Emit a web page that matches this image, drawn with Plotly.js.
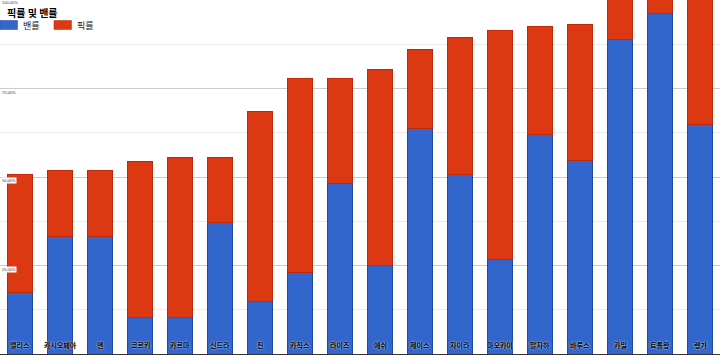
<!DOCTYPE html>
<html>
<head>
<meta charset="utf-8">
<script src="https://cdn.plot.ly/plotly-3.0.1.min.js"></script>
<style>html,body{margin:0;padding:0;background:#fff;}#chart{width:720px;height:355px;}</style>
</head>
<body>
<div id="chart"></div>
<script>
const categories = ['엘리스','카시오페아','엔','코르키','카르마','신드라','진','카직스','라이즈','애쉬','제이스','자이라','마오카이','말자하','바루스','카밀','트롤왕','렝가'];
const banRate  = [0.174,0.332,0.332,0.102,0.102,0.371,0.148,0.230,0.482,0.249,0.638,0.508,0.266,0.619,0.548,0.889,0.962,0.647];
const pickRate = [0.334,0.185,0.185,0.443,0.452,0.183,0.536,0.547,0.295,0.555,0.221,0.387,0.648,0.306,0.384,0.120,0.050,0.370];
const yTickVals = [0.25,0.5,0.75,1];
const yTickText = ['25.00%','50.00%','75.00%','100.00%'];
const seriesNames = ['밴률','픽률'];
const seriesColors = ['#3366CC','#DC3912'];
const seriesEdge = ['#1c4aa8','#c02a08'];

const W = 720, H = 355, PH = 354;
const font = '"Noto Sans CJK KR", "Noto Sans", sans-serif';
const values = [banRate, pickRate];
const traces = values.map((v,i)=>({
  type:'bar', name:seriesNames[i], x:categories, y:v, showlegend:false,
  marker:{color:seriesColors[i], line:{color:seriesEdge[i], width:1}}, hoverinfo:'skip'
}));

const shapes = [], annotations = [];
// custom legend (swatch + label), placed like the reference
const legendX = [0, 54];
seriesNames.forEach((n,i)=>{
  shapes.push({type:'rect', xref:'paper', yref:'paper',
    x0:legendX[i]/W, x1:(legendX[i]+17.5)/W, y0:1-29.5/PH, y1:1-20.5/PH,
    fillcolor:seriesColors[i], line:{color:seriesEdge[i], width:0.5}, layer:'above'});
  annotations.push({xref:'paper', yref:'paper', x:(legendX[i]+21)/W, y:1-25.5/PH,
    xanchor:'left', yanchor:'middle', showarrow:false, text:n,
    font:{size:9, color:'#222', family:font}});
});
// category labels drawn inside the plot, over the bars
categories.forEach(c=>{
  annotations.push({xref:'x', yref:'y', x:c, y:0, yanchor:'bottom', yshift:2, showarrow:false,
    text:'<b>'+c+'</b>',
    font:{size:7, color:'#000', family:font, shadow:'0 0 2px #fff'}});
});
// y tick labels with white boxes just under each gridline
yTickVals.forEach((v,i)=>{
  annotations.push({xref:'paper', yref:'y', x:0, y:v, xanchor:'left', yanchor:'top', xshift:1, yshift:(v===1?1:0),
    showarrow:false, text:yTickText[i], bgcolor:'#fff', borderpad:0,
    font:{size:4, color:'#333', family:'Arial, sans-serif'}});
});

const layout = {
  width:W, height:H,
  margin:{l:0,r:0,t:0,b:1,pad:0},
  paper_bgcolor:'#fff', plot_bgcolor:'#fff',
  barmode:'stack', bargap:0.375,
  font:{family:font, color:'#222'},
  title:{text:'<b>픽률 및 밴률</b>', x:7/W, xanchor:'left', xref:'container', y:1-13.5/H, yanchor:'middle', yref:'container', font:{size:10, color:'#000', family:font}},
  showlegend:false,
  shapes:shapes, annotations:annotations,
  xaxis:{type:'category', range:[-0.5,17.5], showgrid:false, ticks:'', showticklabels:false,
         showline:true, linecolor:'#333', linewidth:1, fixedrange:true},
  yaxis:{range:[0,1], tickvals:yTickVals, ticktext:yTickText, showticklabels:false,
         showgrid:true, gridcolor:'#cccccc', gridwidth:1,
         zeroline:false, showline:false, ticks:'',
         minor:{dtick:0.125, tick0:0, showgrid:true, gridcolor:'#ececec', gridwidth:1}, fixedrange:true}
};
Plotly.newPlot('chart', traces, layout, {staticPlot:true, displayModeBar:false});
</script>
</body>
</html>
